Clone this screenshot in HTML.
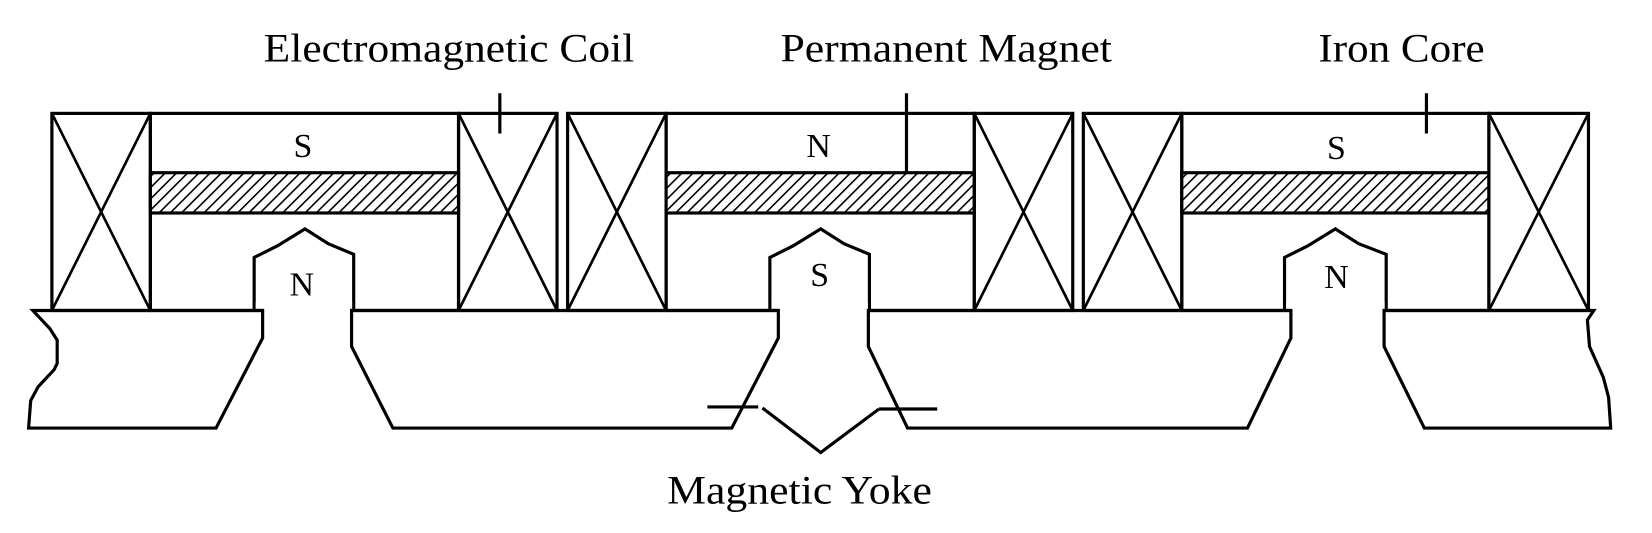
<!DOCTYPE html>
<html><head><meta charset="utf-8"><style>
html,body{margin:0;padding:0;background:#fff;}
svg{display:block;}
text{font-family:"Liberation Serif",serif;fill:#000;}
</style></head><body>
<svg width="1652" height="533" viewBox="0 0 1560 503" preserveAspectRatio="none" xmlns="http://www.w3.org/2000/svg">
<defs>
<pattern id="h" patternUnits="userSpaceOnUse" width="7.5" height="7.5" patternTransform="rotate(45)">
<rect width="7.5" height="7.5" fill="#fff"/>
<line x1="0" y1="0" x2="0" y2="7.5" stroke="#000" stroke-width="3"/>
</pattern>
</defs>
<g fill="none" stroke="#000" stroke-width="3" stroke-linejoin="miter">
<!-- module 1 -->
<rect x="49" y="107" width="93" height="186"/>
<line x1="49" y1="107" x2="142" y2="293" stroke-width="2.5"/><line x1="142" y1="107" x2="49" y2="293" stroke-width="2.5"/>
<rect x="142" y="107" width="291" height="186"/>
<rect x="142" y="163" width="291" height="38" fill="url(#h)"/>
<rect x="433" y="107" width="93" height="186"/>
<line x1="433" y1="107" x2="526" y2="293" stroke-width="2.5"/><line x1="526" y1="107" x2="433" y2="293" stroke-width="2.5"/>
<!-- module 2 -->
<rect x="536" y="107" width="93" height="186"/>
<line x1="536" y1="107" x2="629" y2="293" stroke-width="2.5"/><line x1="629" y1="107" x2="536" y2="293" stroke-width="2.5"/>
<rect x="629" y="107" width="291" height="186"/>
<rect x="629" y="163" width="291" height="38" fill="url(#h)"/>
<rect x="920" y="107" width="93" height="186"/>
<line x1="920" y1="107" x2="1013" y2="293" stroke-width="2.5"/><line x1="1013" y1="107" x2="920" y2="293" stroke-width="2.5"/>
<!-- module 3 -->
<rect x="1023" y="107" width="93" height="186"/>
<line x1="1023" y1="107" x2="1116" y2="293" stroke-width="2.5"/><line x1="1116" y1="107" x2="1023" y2="293" stroke-width="2.5"/>
<rect x="1116" y="107" width="290" height="186"/>
<rect x="1116" y="163" width="290" height="38" fill="url(#h)"/>
<rect x="1406" y="107" width="94" height="186"/>
<line x1="1406" y1="107" x2="1500" y2="293" stroke-width="2.5"/><line x1="1500" y1="107" x2="1406" y2="293" stroke-width="2.5"/>

<!-- poles -->
<path d="M240,293 L240,243 L262,232 L288,216 L310,230 L334,240 L334,293" fill="#fff"/>
<path d="M727,293 L727,243 L749,232 L775,216 L797,230 L821,240 L821,293" fill="#fff"/>
<path d="M1213,293 L1213,243 L1235,232 L1261,216 L1283,230 L1309,240 L1309,293" fill="#fff"/>
</g>
<g fill="#fff" stroke="none">
<rect x="241.5" y="285" width="91" height="12"/>
<rect x="728.5" y="285" width="91" height="12"/>
<rect x="1214.5" y="285" width="93" height="12"/>
</g>
<g fill="none" stroke="#000" stroke-width="3" stroke-linejoin="miter">
<!-- yoke -->
<path d="M31,293 L248,293 L248,319 L204,404 L27,404 L29,378 L36,365 L51,349 L54,343 L54,321 L47,310 Z"/>
<path d="M332,293 L735,293 L735,319 L691,404 L371,404 L332,327 Z"/>
<path d="M820,293 L1219,293 L1219,319 L1178,404 L857,404 L820,327 Z"/>
<path d="M1307,293 L1505,293 L1499,302 L1501,327 L1514,356 L1519,375 L1521,404 L1345,404 L1307,327 Z"/>
<line x1="240" y1="293" x2="248" y2="293"/>
<line x1="332" y1="293" x2="334" y2="293"/>
<line x1="727" y1="293" x2="735" y2="293"/>
<line x1="1213" y1="293" x2="1219" y2="293"/>

<!-- leaders -->
<line x1="472" y1="88" x2="472" y2="126"/>
<line x1="856" y1="88" x2="856" y2="163"/>
<line x1="1347" y1="88" x2="1347" y2="126"/>
<line x1="668" y1="384" x2="716" y2="384"/>
<polyline points="720,385 775,427 830,386"/>
<line x1="830" y1="386" x2="885" y2="386"/>
</g>
<g font-size="32" text-anchor="middle">
<text x="286" y="148">S</text>
<text x="285" y="279">N</text>
<text x="773" y="148">N</text>
<text x="774" y="270">S</text>
<text x="1262" y="150">S</text>
<text x="1262" y="272">N</text>
</g>
<g font-size="38">
<text x="249" y="58" textLength="350" lengthAdjust="spacingAndGlyphs">Electromagnetic Coil</text>
<text x="737" y="58" textLength="313" lengthAdjust="spacingAndGlyphs">Permanent Magnet</text>
<text x="1245" y="58" textLength="157" lengthAdjust="spacingAndGlyphs">Iron Core</text>
<text x="630" y="475" textLength="250" lengthAdjust="spacingAndGlyphs">Magnetic Yoke</text>
</g>
</svg>
</body></html>
